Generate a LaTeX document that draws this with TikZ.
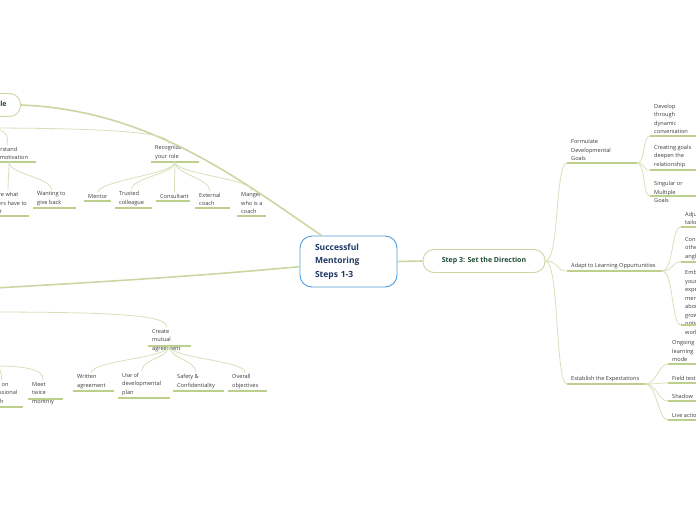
\documentclass[tikz,border=0pt]{standalone}
\usepackage{fontspec}
\setmainfont{Open Sans}
\usetikzlibrary{positioning, calc}
\definecolor{mmblue}{HTML}{4F9DDE}
\definecolor{mmnavy}{HTML}{1F3864}
\definecolor{mmgreen}{HTML}{1E4B35}
\definecolor{mmolive}{HTML}{C9D8A2}
\definecolor{mmline}{HTML}{D6E1BA}
\definecolor{mmunder}{HTML}{BDCF8C}
\definecolor{mmtext}{HTML}{3C3C3C}
\newcommand{\leaffont}{\fontsize{5.6}{8.5}\selectfont}
\tikzset{
  uline/.style={draw=mmunder, line width=1.7pt},
  leafup/.style 2 args={font=\leaffont, text=mmtext, align=left, anchor=south west,
    inner xsep=4pt, inner ysep=2pt,
    append after command={([yshift=#2]\tikzlastnode.south west) edge[uline] ++(#1,0)}},
  leaf/.style={leafup={#1}{0pt}},
  hub/.style={draw=mmblue, line width=0.9pt, fill=white, rounded corners=12pt,
    text=mmnavy, font=\fontsize{8.5}{13.5}\selectfont\bfseries, align=left,
    text width=67pt, inner xsep=15pt, minimum height=51pt},
  stepbox/.style={draw=mmolive, line width=0.9pt, fill=white, rounded corners=11pt,
    text=mmgreen, font=\fontsize{7}{8}\selectfont\bfseries, minimum height=23pt,
    inner xsep=13pt},
  branch/.style={draw=mmolive, line width=1.6pt},
  twig/.style={draw=mmline, line width=0.8pt}
}

\begin{document}
\begin{tikzpicture}[x=1pt, y=-1pt]
  \useasboundingbox (0,0) rectangle (696,520);
  \clip (0,0) rectangle (696,520);
  \fill[white] (0,0) rectangle (696,520);

  % main topics
  \node[hub] (hub) at (348.5,261.5) {Successful\\Mentoring\\Steps 1-3};
  \node[stepbox, minimum width=122pt] (step3) at (484,261) {Step 3: Set the Direction};
  \node[stepbox, anchor=east, inner xsep=14pt] (step1) at (21,105) {Step 1: Understand Your Role};
  \coordinate (s1kids) at (-20,128);
  \coordinate (s2) at (-5,288);
  \coordinate (s2kids) at (-20,312);
  \coordinate (s2meet) at (-6,366);

  % step 1 side
  \node[leaf=54] (motive) at (-18,162) {Understand\\their motivation};
  \node[leaf=44] (share) at (-15,216) {Share what\\others have to\\offer};
  \node[leaf=43] (giveback) at (33,208) {Wanting to\\give back};
  \node[leaf=48] (recog) at (151,162) {Recognize\\your role};
  \node[leaf=27] (mentor) at (84,201) {Mentor};
  \node[leaf=37] (colleague) at (115,208) {Trusted\\colleague};
  \node[leaf=34] (consult) at (156,201) {Consultant};
  \node[leaf=35] (external) at (195,208) {External\\coach};
  \node[leaf=29] (manager) at (237,216) {Manger\\who is a\\coach};

  % step 2 side
  \node[leafup={43}{8pt}] (agree) at (148,354) {Create\\mutual\\agreement};
  \node[leaf=42] (growth) at (-19,407) {Focus on\\professional\\growth};
  \node[leafup={35}{8pt}] (meet) at (28,407) {Meet\\twice\\monthly};
  \node[leaf=41] (written) at (73,391) {Written\\agreement};
  \node[leaf=52] (devplan) at (118,398) {Use of\\developmental\\plan};
  \node[leaf=51] (safety) at (173,391) {Safety \&\\Confidentiality};
  \node[leaf=39] (overall) at (228,391) {Overall\\objectives};

  % step 3 side
  \node[leaf=70] (goals) at (567,163) {Formulate\\Developmental\\Goals};
  \node[leaf=50] (dynamic) at (650,136) {Develop\\through\\dynamic\\conversation};
  \node[leaf=50] (deepen) at (650,170) {Creating goals\\deepen the\\relationship};
  \node[leafup={50}{9pt}] (single) at (650,205) {Singular or\\Multiple\\Goals};
  \node[leaf=95] (adapt) at (567,271) {Adapt to Learning Oppurtunities};
  \node[leaf=30] (adjust) at (681,227) {Adjust to\\tailor needs};
  \node[leaf=30] (angles) at (681,262) {Consider\\other\\angles};
  \node[leafup={30}{13pt}] (embrace) at (681,338) {Embrace\\your\\expert\\mentors\\about\\growth\\options\\working};
  \node[leaf=78] (expect) at (567,384) {Establish the Expectations};
  \node[leaf=28] (ongoing) at (668,364) {Ongoing\\learning\\mode};
  \node[leaf=28] (fieldtest) at (668,383) {Field test};
  \node[leaf=28] (shadow) at (668,401) {Shadow};
  \node[leaf=28] (liveaction) at (668,420) {Live action};

  % main branches
  \draw[branch] (hub.east) -- (step3.west);
  \draw[branch] (hub.136) .. controls (240,180) and (150,110) .. (step1.east);
  \draw[branch] (hub.186) .. controls (200,276) and (100,282) .. (s2);

  % step 1 twigs
  \draw[twig] (s1kids) .. controls (5,128) and (9,133) .. (motive.north);
  \draw[twig] (s1kids) .. controls (100,128) and (175,132) .. (recog.north);
  \draw[twig] ([xshift=27pt]motive.south west) .. controls +(0,12) and +(0,-12) .. (share.north);
  \draw[twig] ([xshift=27pt]motive.south west) .. controls +(0,12) and +(0,-12) .. (giveback.north);
  \draw[twig] ([xshift=24pt]recog.south west) .. controls +(0,12) and +(0,-12) .. (mentor.north);
  \draw[twig] ([xshift=24pt]recog.south west) .. controls +(0,12) and +(0,-12) .. (colleague.north);
  \draw[twig] ([xshift=24pt]recog.south west) .. controls +(0,12) and +(0,-12) .. (consult.north);
  \draw[twig] ([xshift=24pt]recog.south west) .. controls +(0,12) and +(0,-12) .. (external.north);
  \draw[twig] ([xshift=24pt]recog.south west) .. controls +(0,12) and +(0,-12) .. (manager.north);

  % step 2 twigs
  \draw[twig] (s2kids) .. controls (100,312) and (170,314) .. (agree.north);
  \draw[twig] (s2meet) .. controls (0,366) and (2,372) .. (growth.north);
  \draw[twig] (s2meet) .. controls (20,366) and (45,368) .. (meet.north);
  \draw[twig] ([xshift=21pt,yshift=8pt]agree.south west) .. controls +(0,12) and +(0,-12) .. (written.north);
  \draw[twig] ([xshift=21pt,yshift=8pt]agree.south west) .. controls +(0,12) and +(0,-12) .. (devplan.north);
  \draw[twig] ([xshift=21pt,yshift=8pt]agree.south west) .. controls +(0,12) and +(0,-12) .. (safety.north);
  \draw[twig] ([xshift=21pt,yshift=8pt]agree.south west) .. controls +(0,12) and +(0,-12) .. (overall.north);

  % step 3 twigs
  \draw[twig] (step3.east) .. controls +(14,0) and +(-12,0) .. (goals.south west);
  \draw[twig] (step3.east) .. controls +(14,0) and +(-12,0) .. (adapt.south west);
  \draw[twig] (step3.east) .. controls +(14,0) and +(-12,0) .. (expect.south west);
  \draw[twig] ([xshift=70pt]goals.south west) .. controls +(9,0) and +(-8,0) .. (dynamic.south west);
  \draw[twig] ([xshift=70pt]goals.south west) .. controls +(9,0) and +(-8,0) .. (deepen.south west);
  \draw[twig] ([xshift=70pt]goals.south west) .. controls +(9,0) and +(-8,0) .. ([yshift=9pt]single.south west);
  \draw[twig] ([xshift=95pt]adapt.south west) .. controls +(12,0) and +(-10,0) .. (adjust.south west);
  \draw[twig] ([xshift=95pt]adapt.south west) .. controls +(12,0) and +(-10,0) .. (angles.south west);
  \draw[twig] ([xshift=95pt]adapt.south west) .. controls +(12,0) and +(-10,0) .. ([yshift=13pt]embrace.south west);
  \draw[twig] ([xshift=78pt]expect.south west) .. controls +(12,0) and +(-10,0) .. (ongoing.south west);
  \draw[twig] ([xshift=78pt]expect.south west) .. controls +(12,0) and +(-10,0) .. (fieldtest.south west);
  \draw[twig] ([xshift=78pt]expect.south west) .. controls +(12,0) and +(-10,0) .. (shadow.south west);
  \draw[twig] ([xshift=78pt]expect.south west) .. controls +(12,0) and +(-10,0) .. (liveaction.south west);
\end{tikzpicture}
\end{document}
